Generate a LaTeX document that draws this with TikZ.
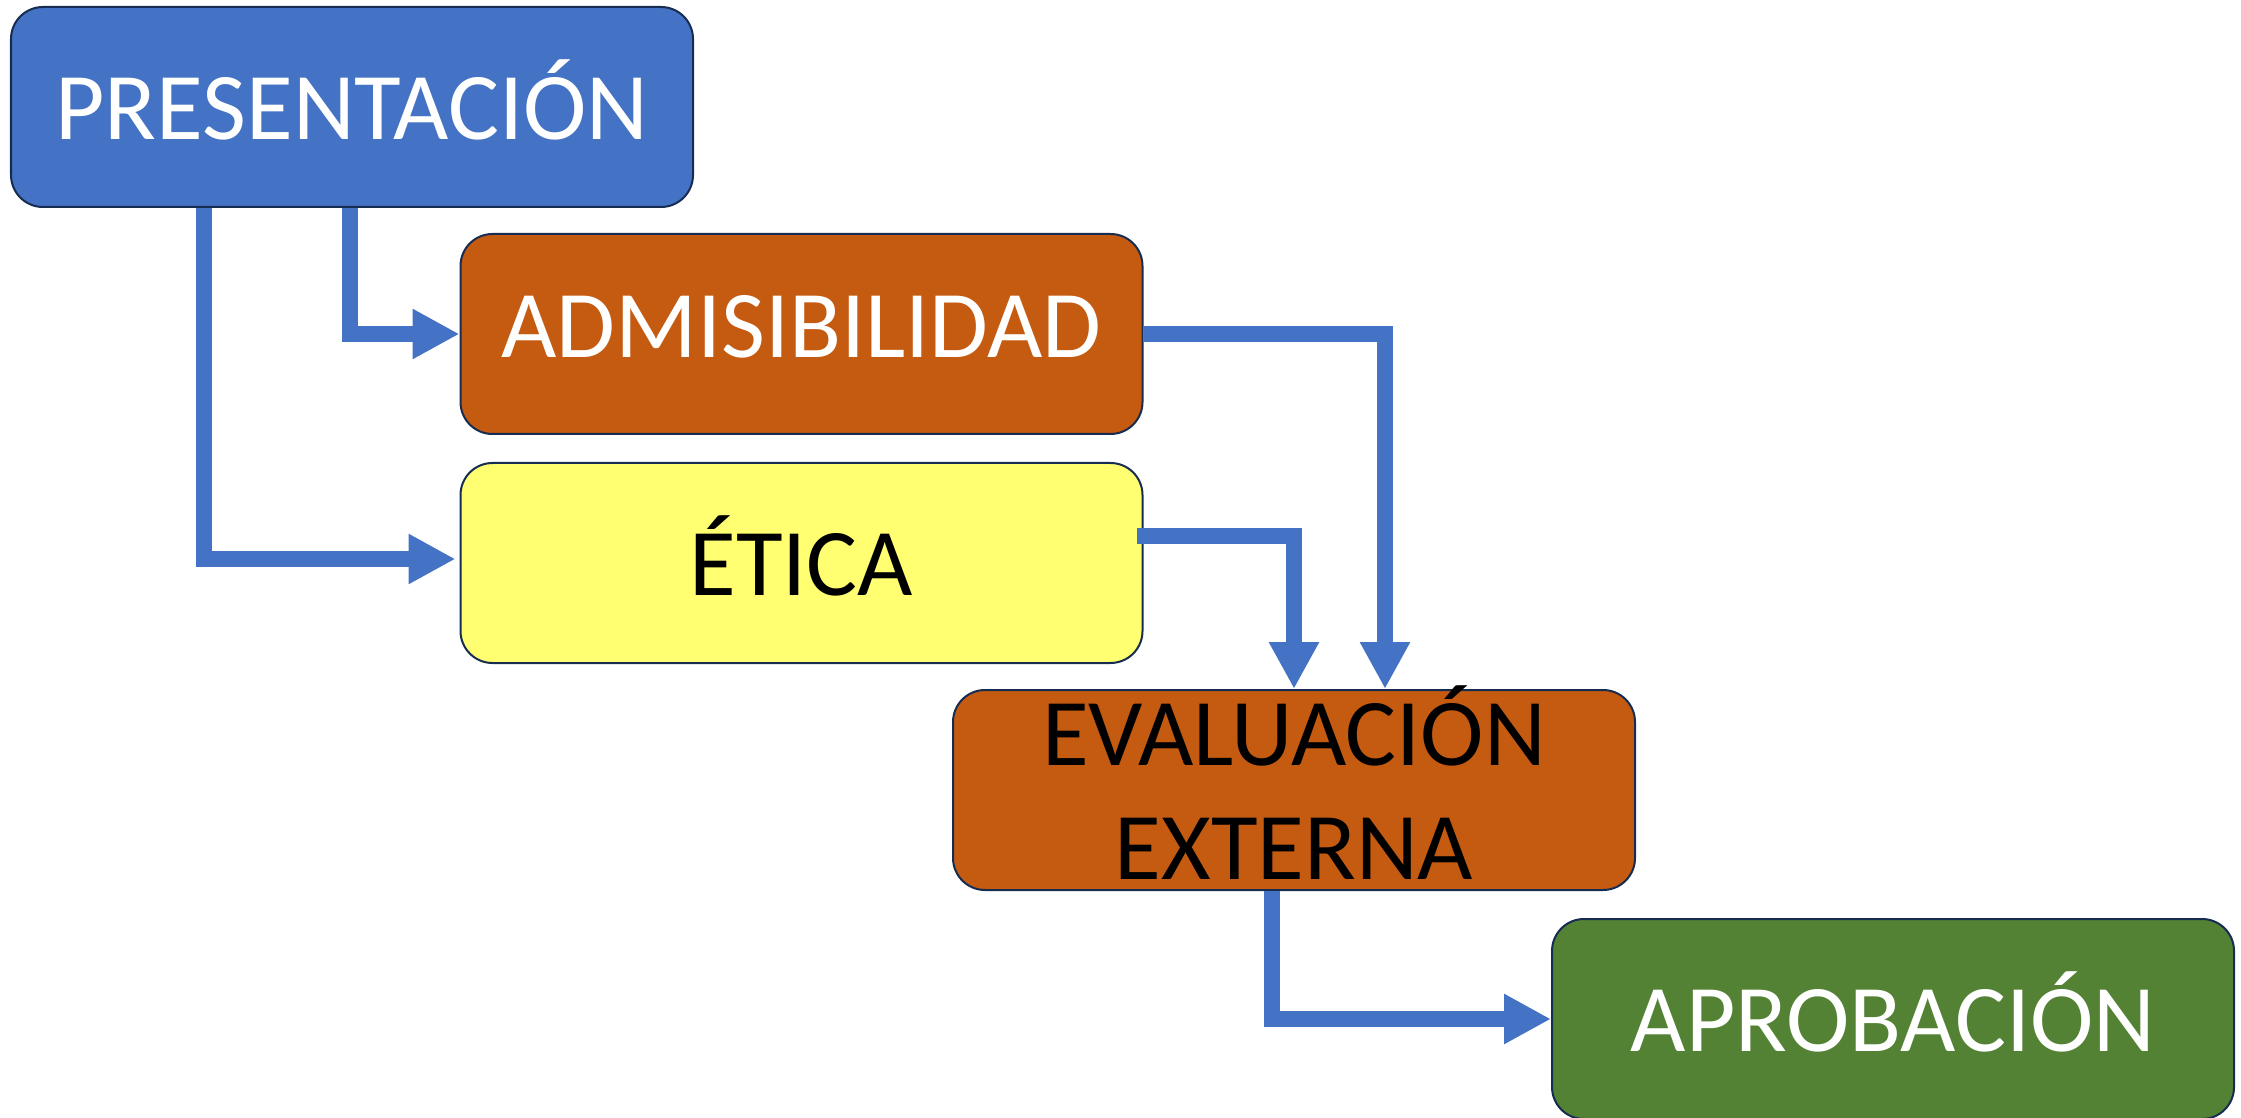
\documentclass[tikz,border=0pt]{standalone}
\usepackage{fontspec}
\setmainfont{Carlito}
\usetikzlibrary{arrows.meta}
\definecolor{boxblue}{HTML}{4472C4}
\definecolor{boxorange}{HTML}{C55A11}
\definecolor{boxyellow}{HTML}{FFFF71}
\definecolor{boxgreen}{HTML}{548235}
\definecolor{boxline}{HTML}{172C51}
\definecolor{flowblue}{HTML}{4472C4}
\tikzset{
  stagebox/.style={draw=boxline, line width=0.02cm, rounded corners=0.32cm,
    minimum width=6.82cm, minimum height=2.0cm, inner sep=0pt, align=center,
    text depth=0.15cm, font=\fontsize{27.2}{32.5}\selectfont},
  flow/.style={draw=flowblue, line width=0.16cm, line join=miter,
    -{Triangle[width=0.47cm,length=0.47cm]}}
}
\begin{document}
\begin{tikzpicture}
                \useasboundingbox (0.000000,0.000000) rectangle (22.410000,-11.180000);
                
                % Marking box PRESENTACION
                \node [stagebox, fill=boxblue, text=white] (pres) at (3.520000,-1.070000) {PRESENTACIÓN};%
                
                % Marking box ADMISIBILIDAD
                \node [stagebox, fill=boxorange, text=white] (adm) at (8.015000,-3.340000) {ADMISIBILIDAD};%
                
                % Marking box ETICA
                \node [stagebox, fill=boxyellow, text=black] (eti) at (8.015000,-5.630000) {ÉTICA};%
                
                % Marking box EVALUACION EXTERNA (text a bit taller than the box)
                \node [stagebox, fill=boxorange, text=black, inner ysep=-0.2cm] (eva) at (12.940000,-7.900000) {EVALUACIÓN\\EXTERNA};%
                
                % Marking box APROBACION
                \node [stagebox, fill=boxgreen, text=white] (apr) at (18.930000,-10.190000) {APROBACIÓN};%
                
                % Drawing flow pres -> adm
                \draw [flow] ([xshift=3.400000cm]pres.south west) |- (adm.west);%
                
                % Drawing flow pres -> eti
                \draw [flow] ([xshift=1.940000cm]pres.south west) |- ([xshift=-0.040000cm,yshift=0.040000cm]eti.west);%
                
                % Drawing flow adm -> eva
                \draw [flow] (adm.east) -| ([xshift=0.910000cm]eva.north);%
                
                % Drawing flow eti -> eva
                \draw [flow] ([xshift=-0.070000cm,yshift=0.270000cm]eti.east) -| (eva.north);%
                
                % Drawing flow eva -> apr
                \draw [flow] ([xshift=-0.220000cm]eva.south) |- (apr.west);%
\end{tikzpicture}
\end{document}
